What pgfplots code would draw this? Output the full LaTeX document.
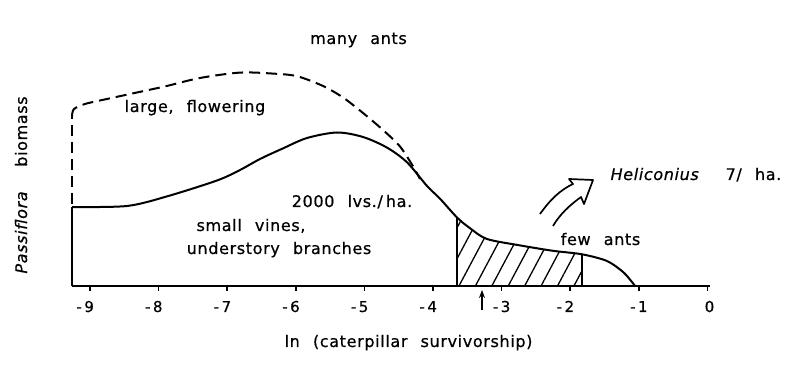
\documentclass[border=0pt]{standalone}
\usepackage{fontspec}
\setmainfont{DejaVu Sans}[LetterSpace=4,WordSpace=2.3,FakeBold=0.6]
\usepackage{pgfplots}
\pgfplotsset{compat=1.18}
\usetikzlibrary{patterns.meta,arrows.meta}
\begin{document}
\begin{tikzpicture}[font=\fontsize{16pt}{19pt}\selectfont]
\path[use as bounding box] (0,0) rectangle (800pt,377pt);
\begin{axis}[at={(72pt,91pt)}, anchor=south west, scale only axis,
  width=637.5pt, height=220pt,
  xmin=-9.262, xmax=0.03, ymin=0, ymax=220,
  axis x line*=bottom, axis y line=none,
  xtick={-9,-8,-7,-6,-5,-4,-3,-2,-1,0}, xticklabels={},
  xtick align=outside, major tick length=5pt,
  every tick/.style={black, line width=1.5pt},
  axis line style={line width=1.7pt},
  clip=false]
% hatched region
\addplot[pattern={Lines[angle=62,distance=14.5pt,line width=1.3pt]}, draw=none] coordinates {
(-3.65,0) (-3.65,68.5) (-3.55,63) (-3.461,57.8) (-3.33,51.5) (-3.213,47) (-2.98,43.5) (-2.732,40.6)
(-2.251,35.2) (-1.828,31.7) (-1.828,0)} -- cycle;
% solid curve (small vines)
\addplot[black, line width=2pt] coordinates {(-9.262,0) (-9.262,79)};
\addplot[black, line width=2pt, smooth] coordinates {
(-9.262,79) (-8.461,80) (-7.878,89.6) (-7.149,105.5) (-6.813,116) (-6.522,127)
(-6.187,137.6) (-5.837,148) (-5.399,153.5) (-5.020,149) (-4.671,138.4) (-4.379,123.7)
(-4.087,100) (-3.898,87.3) (-3.650,68.5) (-3.461,57.8) (-3.213,47) (-2.732,40.6)
(-2.251,35.2) (-1.828,31.7) (-1.464,25) (-1.23,14) (-1.10,4) (-1.055,0)};
% dashed curve (large, flowering)
\addplot[black, line width=2pt, dash pattern=on 11pt off 6pt] coordinates {(-9.262,82) (-9.262,170)};
\addplot[black, line width=2pt, smooth, dash pattern=on 11pt off 6pt] coordinates {
(-9.262,170) (-9.233,177) (-9.073,182) (-8.854,185.5) (-8.417,192) (-7.907,199.6)
(-7.397,208) (-6.813,213.4) (-6.332,212.4) (-5.983,209.8) (-5.603,200) (-5.312,188.5)
(-5.020,173) (-4.729,156) (-4.481,139.5) (-4.292,119.7) (-4.19,107)};
\addplot[black, line width=1.7pt] coordinates {(-3.65,0) (-3.65,68.5)};
\addplot[black, line width=1.7pt] coordinates {(-1.828,0) (-1.828,31.7)};
% small arrow
\draw[line width=1.4pt, -{Stealth[length=8pt,width=6pt]}] (axis cs:-3.286,-24) -- (axis cs:-3.286,-4);
% tick labels
\begin{scope}[every node/.style={anchor=base, inner sep=0pt, yshift=-26pt, font=\fontsize{15pt}{18pt}\selectfont}]
\node at (axis cs:-9.07,0) {-\,9};
\node at (axis cs:-8.07,0) {-\,8};
\node at (axis cs:-7.07,0) {-\,7};
\node at (axis cs:-6.07,0) {-\,6};
\node at (axis cs:-5.07,0) {-\,5};
\node at (axis cs:-4.07,0) {-\,4};
\node at (axis cs:-3.0,0) {-\,3};
\node at (axis cs:-2.07,0) {-\,2};
\node at (axis cs:-1.0,0) {-\,1};
\node at (axis cs:0.03,0) {0};
\end{scope}
\end{axis}
\begin{scope}[yshift=377pt, x=1pt, y=-1pt]
\node[anchor=base, inner sep=0pt] at (358.5,44) {many ants};
\node[anchor=base, inner sep=0pt] at (195,112) {large, flowering};
\node[anchor=base, inner sep=0pt] at (352,207) {2000 lvs./\hspace{3pt}ha.};
\node[anchor=base, inner sep=0pt] at (251,231) {small vines,};
\node[anchor=base, inner sep=0pt] at (279,254) {understory branches};
\node[anchor=base, inner sep=0pt] at (655,180) {\textit{Heliconius}};
\node[anchor=base, inner sep=0pt] at (753.5,180) {7/ ha.};
\node[anchor=base, inner sep=0pt] at (600.5,245) {few ants};
\node[anchor=base, inner sep=0pt] at (408.5,347) {ln (caterpillar survivorship)};
\node[anchor=base, inner sep=0pt, rotate=90] at (27,185) {\textit{Passiflora}\hspace{24pt}biomass};
\draw[line width=1.7pt, line join=round] (540,214) .. controls (550,200) and (560,190) .. (573,184)
  -- (569,179) -- (593,180) -- (584,204) -- (581,197) .. controls (570,205) and (560,214) .. (553,226);
\end{scope}
\end{tikzpicture}
\end{document}
